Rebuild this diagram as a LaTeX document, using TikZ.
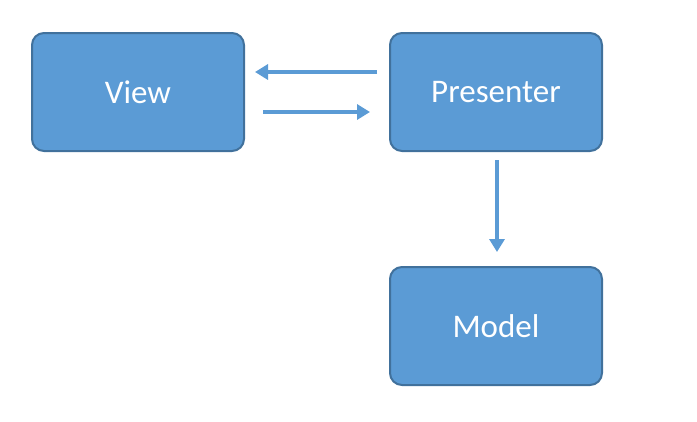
\documentclass[tikz,border=0pt]{standalone}
\usepackage{fontspec}
\setmainfont{Carlito}
\usetikzlibrary{arrows.meta, positioning}
\definecolor{boxFill}{HTML}{5B9BD5}
\definecolor{boxLine}{HTML}{41719C}

\tikzset{
    block/.style={draw=boxLine, line width=2pt, fill=boxFill, rounded corners=12pt,
        minimum width=212pt, minimum height=118pt, text=white,
        font=\fontsize{33}{40}\selectfont},
    flow/.style={boxFill, line width=3.5pt, -{Triangle[length=13pt, width=15pt]}}
}

\begin{document}
\begin{tikzpicture}[x=1pt, y=-1pt]
    \useasboundingbox (0, 0) rectangle (697, 421);

    \node[block] (view) at (138, 92) {View};
    \node[block] (presenter) at (496, 92) {Presenter};
    \node[block] (model) at (496, 326) {Model};

    \draw[flow, shorten <=12pt, shorten >=10pt]
        ([yshift=20pt]presenter.west) -- ([yshift=20pt]view.east);
    \draw[flow, shorten <=18pt, shorten >=19pt]
        ([yshift=-20pt]view.east) -- ([yshift=-20pt]presenter.west);
    \draw[flow, shorten <=8pt, shorten >=14pt]
        ([xshift=1pt]presenter.south) -- ([xshift=1pt]model.north);
\end{tikzpicture}
\end{document}
